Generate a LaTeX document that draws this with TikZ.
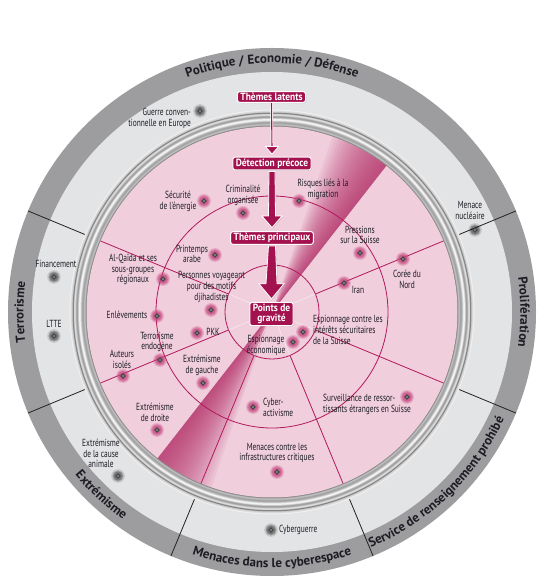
\documentclass[tikz,border=0pt]{standalone}
\usepackage{fontspec}
\setmainfont{PT Sans}
\newfontfamily\condfont{PT Sans}[FakeStretch=0.72]
\newfontfamily\semicondfont{PT Sans}[FakeStretch=0.9]
\usetikzlibrary{calc,decorations.text,shadows}
\definecolor{bandgray}{HTML}{9D9D9F}
\definecolor{lightgraytwo}{HTML}{E3E4E6}
\definecolor{pinkbg}{HTML}{F0CEDC}
\definecolor{magline}{HTML}{B2185C}
\definecolor{nodemag}{HTML}{A3124E}
\definecolor{wedgemag}{HTML}{B42A66}
\definecolor{glowmag}{HTML}{C4407C}
\definecolor{txt}{HTML}{1C1C24}
\definecolor{secl}{HTML}{222222}
\newcommand\lblfont{\condfont\fontsize{10.3}{10.8}\selectfont}
\newcommand\boxfont{\semicondfont\bfseries\fontsize{10.5}{10.5}\selectfont}
\newcommand\bandfont{\bfseries\fontsize{13}{14}\selectfont}
\newcommand\pdot[2]{%
  \fill[glowmag,opacity=0.22] (#2) circle (7);
  \fill[glowmag,opacity=0.38] (#2) circle (5.8);
  \fill[glowmag,opacity=0.5] (#2) circle (4.7);
  \node[dotn] (#1) at (#2) {};}
\newcommand\gdot[2]{%
  \fill[black,opacity=0.12] (#2) circle (6.8);
  \fill[black,opacity=0.18] (#2) circle (5.6);
  \fill[black,opacity=0.25] (#2) circle (4.6);
  \node[dotn] (#1) at (#2) {};}
\begin{document}
\begin{tikzpicture}[x=1pt,y=1pt,
  dotn/.style={circle,fill=white,draw=black!72,line width=1.3pt,inner sep=0pt,minimum size=3.8pt},
  lbl/.style={font=\lblfont,text=txt,align=center,inner sep=0pt},
  themebox/.style={rectangle,rounded corners=2.5pt,fill=nodemag,draw=white,line width=1pt,text=white,
     font=\boxfont,inner xsep=3pt,inner ysep=1.6pt,align=center,
     drop shadow={opacity=0.35,shadow xshift=0.8pt,shadow yshift=-0.8pt}},
  bigarrow/.style={fill=nodemag,draw=white,line width=0.8pt,line join=miter,
     drop shadow={opacity=0.3,shadow xshift=0.8pt,shadow yshift=-0.8pt}},
  secline/.style={secl,line width=0.8pt},
  magl/.style={magline,line width=0.8pt},
  bandtext/.style={decorate,decoration={text along path,text align=center,text color=txt,text={|\bandfont|#1}}}
]
\fill[white] (-272,-271) rectangle (278,312);
\useasboundingbox (-272,-271) rectangle (278,312);
% outer rings
\fill[bandgray] (0,0) circle (264);
\fill[lightgraytwo] (0,0) circle (240);
\foreach \a in {22.5,157.5,202.5,247.5,292.5,337.5} \draw[secline] (\a:190) -- (\a:264);
% metallic ring
\foreach \r/\g in {202.5/6,201.5/12,200.5/20,199.5/40,199/55,198.5/35,198/18,197.5/12,197/14,196.5/22,196/30,195.5/36,195/38,
   194.5/34,194/25,193.5/14,193/6,192.5/3,192/5,191.5/12,191/20,190.5/28,190/33,189.5/36,189/36,188.5/33,188/28,
   187.5/24,187/28,186.5/40,186/50}
  \fill[black!\g] (0,0) circle (\r);
\fill[pinkbg] (0,0) circle (185.5);
% gradient wedges
\foreach \k in {1,...,19} {
  \fill[wedgemag,opacity=0.07] (0,0) -- (52:185.5) arc[start angle=52,end angle={52+\k},radius=185.5] -- cycle;
  \fill[wedgemag,opacity=0.07] (0,0) -- (232:185.5) arc[start angle=232,end angle={232+\k},radius=185.5] -- cycle;
}
% inner circles and radial lines
\draw[magl] (0,0) circle (116);
\draw[magl] (0,0) circle (47);
\foreach \a in {22.5,157.5,202.5,247.5,292.5,337.5} {
  \draw[magl] (\a:47) -- (\a:185.5);
  \draw[white,opacity=0.55,line width=0.6pt] (0,0) -- (\a:47);
}
% band labels
\path[bandtext={Politique / Economie / Défense}] (150:249) arc[start angle=150,end angle=30,radius=249];
\path[bandtext={Prolifération}] (20:248.5) arc[start angle=20,end angle=-20,radius=248.5];
\path[bandtext={Terrorisme}] (200:248.5) arc[start angle=200,end angle=160,radius=248.5];
\path[bandtext={Extrémisme}] (202:255.5) arc[start angle=202,end angle=252,radius=255.5];
\path[bandtext={Menaces dans le cyberespace}] (240:255.5) arc[start angle=240,end angle=300,radius=255.5];
\path[bandtext={Service de renseignement prohibé}] (282:255.5) arc[start angle=282,end angle=346,radius=255.5];
% pixel-coordinate scope
\begin{scope}[shift={(-272pt,312pt)},y=-1pt]
% gray area items
\gdot{dguerre}{200,111}
\node[lbl,anchor=east,align=right] (lguerre) at (191,118.5) {Guerre conven-\\tionnelle en Europe};
\gdot{dfin}{54,277}
\node[lbl] (lfin) at (56,264) {Financement};
\gdot{dltte}{54,336}
\node[lbl] (lltte) at (54,324) {LTTE};
\gdot{dnuc}{475,230}
\node[lbl] (lnuc) at (470,210.5) {Menace\\nucléaire};
\gdot{danim}{118,476}
\node[lbl] (lanim) at (101,453.5) {Extrémisme\\de la cause\\animale};
\gdot{dcyw}{271,530}
\node[lbl,anchor=west] (lcyw) at (279,530) {Cyberguerre};
% pink area items
\pdot{dsec}{204,201}
\node[lbl] (lsec) at (178,201) {Sécurité\\de l'énergie};
\pdot{dcrim}{243,213}
\node[lbl] (lcrim) at (243,195) {Criminalité\\organisée};
\pdot{dmig}{299,201}
\node[lbl] (lmig) at (323,189.5) {Risques liés à la\\migration};
\pdot{dprin}{215,255}
\node[lbl] (lprin) at (192,254) {Printemps\\arabe};
\pdot{djih}{211,310}
\node[lbl] (ljih) at (211.5,287) {Personnes voyageant\\pour des motifs\\djihadistes};
\pdot{dalq}{163,279}
\node[lbl] (lalq) at (133,269.5) {Al-Qaïda et ses\\sous-groupes\\régionaux};
\pdot{dpres}{360,253}
\node[lbl] (lpres) at (360,235) {Pressions\\sur la Suisse};
\pdot{dcor}{403,259}
\node[lbl] (lcor) at (407,279) {Corée du\\Nord};
\pdot{diran}{344,283}
\node[lbl] (liran) at (358,290) {Iran};
\pdot{despc}{303,332}
\node[lbl,anchor=west,align=left] (lespc) at (313,330) {Espionnage contre les\\intérêts sécuritaires\\de la Suisse};
\pdot{despe}{293,342}
\node[lbl] (lespe) at (266,345.5) {Espionnage\\économique};
\pdot{denl}{157,316}
\node[lbl] (lenl) at (127,315) {Enlèvements};
\pdot{dendo}{160,360}
\node[lbl] (lendo) at (157,342) {Terrorisme\\endogène};
\pdot{dauto}{123,376}
\node[lbl] (lauto) at (122,359) {Auteurs\\isolés};
\pdot{dpkk}{197,333}
\node[lbl] (lpkk) at (213,332) {PKK};
\pdot{dgau}{203,383}
\node[lbl] (lgau) at (202,365.5) {Extrémisme\\de gauche};
\pdot{ddro}{157,430}
\node[lbl] (ldro) at (155,412) {Extrémisme\\de droite};
\pdot{dcyba}{253,407}
\node[lbl,anchor=west,align=left] (lcyba) at (263,407.5) {Cyber-\\activisme};
\pdot{dinfr}{277,472}
\node[lbl] (linfr) at (277,453) {Menaces contre les\\infrastructures critiques};
\pdot{dsurv}{407,397}
\node[lbl,anchor=west,align=left] (lsurv) at (323,404.5) {Surveillance de ressor-\\tissants étrangers en Suisse};
% theme boxes
\node[themebox] (tl) at (271.5,97) {Thèmes latents};
\node[themebox] (dp) at (272,163.5) {Détection précoce};
\node[themebox] (tp) at (272,238) {Thèmes principaux};
\node[themebox] (pg) at (271.5,314) {Points de\\gravité};
% arrows
\draw[white,line width=2.6pt] (tl.south) -- ($(dp.north)+(0,-9)$);
\draw[nodemag,line width=1.1pt] (tl.south) -- ($(dp.north)+(0,-9)$);
\filldraw[fill=nodemag,draw=white,line width=0.8pt] ($(dp.north)+(-6.5,-10)$) -- ($(dp.north)+(0,-2.5)$) -- ($(dp.north)+(6.5,-10)$) -- cycle;
\filldraw[bigarrow] ($(dp.south)+(-3,1)$) -- ($(tp.north)+(-3.5,-15)$) -- ($(tp.north)+(-10,-15)$) -- ($(tp.north)+(0,-3.5)$) -- ($(tp.north)+(10,-15)$) -- ($(tp.north)+(3.5,-15)$) -- ($(dp.south)+(3,1)$) -- cycle;
\filldraw[bigarrow] ($(tp.south)+(-3.5,1)$) -- ($(pg.north)+(-5.5,-18)$) -- ($(pg.north)+(-12.5,-18)$) -- ($(pg.north)+(0,-3)$) -- ($(pg.north)+(12.5,-18)$) -- ($(pg.north)+(5.5,-18)$) -- ($(tp.south)+(3.5,1)$) -- cycle;
\end{scope}
\end{tikzpicture}
\end{document}
